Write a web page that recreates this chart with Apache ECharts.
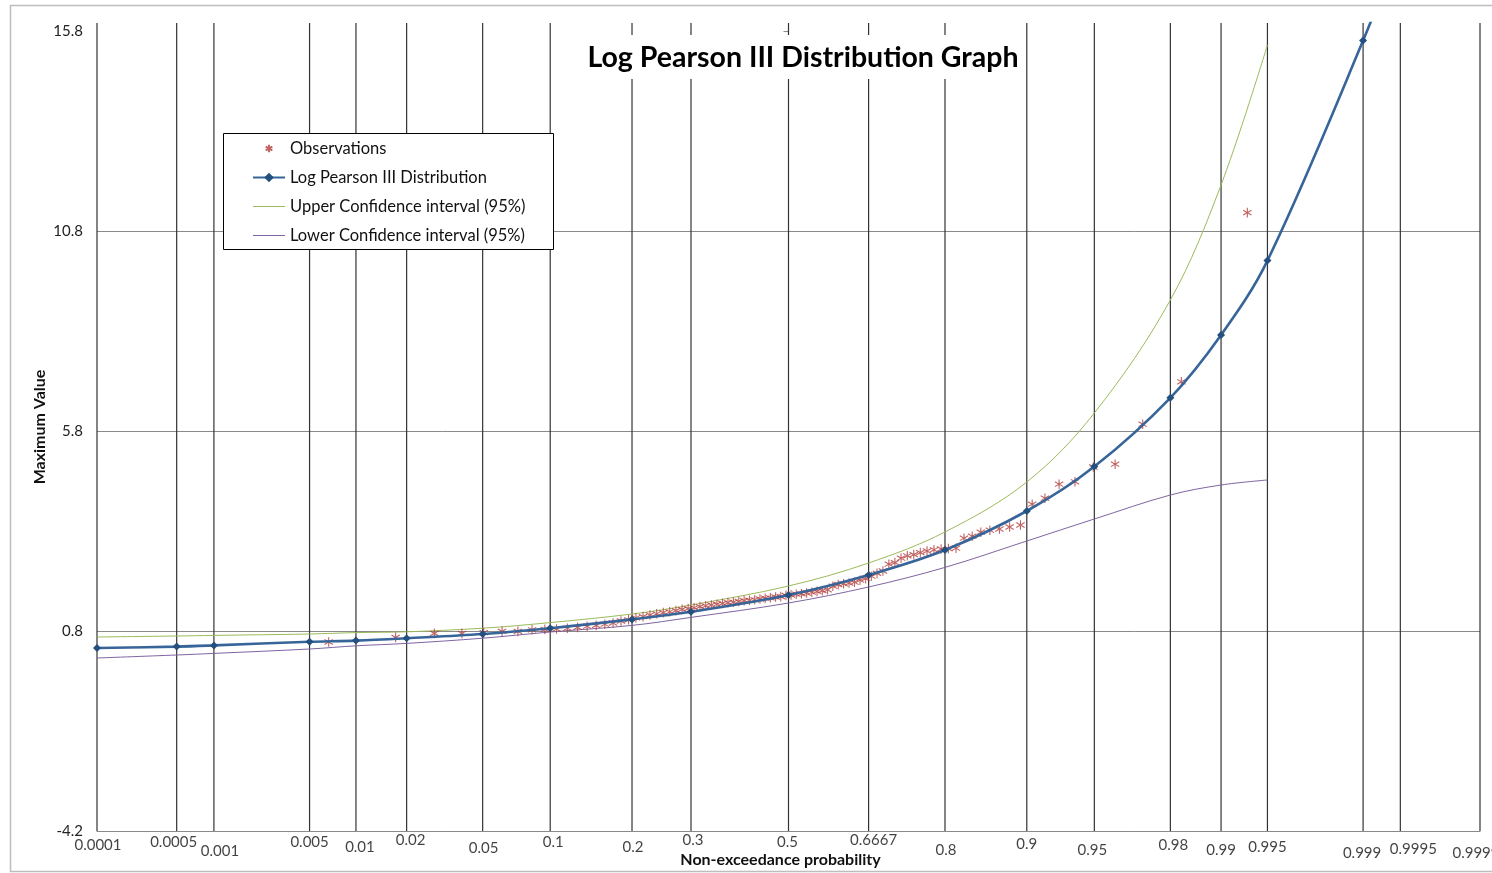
<!DOCTYPE html>
<html><head><meta charset="utf-8">
<script src="https://cdn.jsdelivr.net/npm/echarts@6/dist/echarts.min.js"></script>
<style>html,body{margin:0;padding:0;background:#fff}#c{width:1492px;height:873px}</style>
</head><body><div id="c"></div>
<script>
// ---------- data ----------
const probTicks = [0.0001,0.0005,0.001,0.005,0.01,0.02,0.05,0.1,0.2,0.3,0.5,0.6667,0.8,0.9,0.95,0.98,0.99,0.995,0.999,0.9995,0.9999];
const probTickLabels = ['0.0001','0.0005','0.001','0.005','0.01','0.02','0.05','0.1','0.2','0.3','0.5','0.6667','0.8','0.9','0.95','0.98','0.99','0.995','0.999','0.9995','0.9999'];
const yTicks = [-4.2, 0.8, 5.8, 10.8, 15.8];

const lp3Prob  = [0.0001,0.0005,0.001,0.005,0.01,0.02,0.05,0.1,0.2,0.3,0.5,0.6667,0.8,0.9,0.95,0.98,0.99,0.995,0.999,0.9995];
const lp3Value = [0.375,0.41,0.44,0.53,0.56,0.62,0.725,0.87,1.09,1.28,1.70,2.20,2.825,3.80,4.91,6.63,8.2,10.06,15.56,18.0];

const ciProb   = [0.0001,0.0005,0.001,0.005,0.01,0.02,0.05,0.1,0.2,0.3,0.5,0.6667,0.8,0.9,0.95,0.98,0.99,0.995];
const upperCI  = [0.65,0.675,0.69,0.725,0.76,0.78,0.87,1.01,1.225,1.45,1.925,2.50,3.275,4.525,6.25,9.075,11.95,15.45];
const lowerCI  = [0.125,0.20,0.24,0.35,0.43,0.49,0.62,0.775,0.94,1.14,1.50,1.90,2.39,3.05,3.60,4.20,4.45,4.575];

const obsProb = [0.0067,0.0173,0.0284,0.0395,0.0506,0.0617,0.0728,0.0839,0.0950,0.1061,
  0.1172,0.1283,0.1394,0.1505,0.1616,0.1727,0.1838,0.1949,0.2060,0.2170,
  0.2281,0.2392,0.2503,0.2614,0.2725,0.2836,0.2947,0.3058,0.3169,0.3280,
  0.3391,0.3502,0.3613,0.3724,0.3835,0.3946,0.4057,0.4168,0.4279,0.4390,
  0.4501,0.4612,0.4723,0.4834,0.4945,0.5055,0.5166,0.5277,0.5388,0.5499,
  0.5610,0.5721,0.5832,0.5943,0.6054,0.6165,0.6276,0.6387,0.6498,0.6609,
  0.6720,0.6830,0.6942,0.7053,0.7164,0.7275,0.7386,0.7497,0.7608,0.7719,
  0.7830,0.7941,0.8051,0.8162,0.8273,0.8384,0.8495,0.8606,0.8717,0.8828,
  0.8939,0.9050,0.9161,0.9272,0.9383,0.9494,0.9605,0.9716,0.9827,0.9932];
const obsValue = [0.525,0.64,0.74,0.74,0.76,0.79,0.79,0.83,0.84,0.85,
  0.87,0.89,0.92,0.94,0.97,1.00,1.05,1.08,1.13,1.16,
  1.20,1.23,1.26,1.28,1.31,1.34,1.36,1.38,1.41,1.43,
  1.45,1.47,1.49,1.51,1.52,1.54,1.56,1.57,1.58,1.60,
  1.62,1.63,1.65,1.66,1.69,1.70,1.72,1.73,1.75,1.77,
  1.79,1.81,1.83,1.92,1.96,1.98,2.00,2.02,2.07,2.11,
  2.17,2.24,2.30,2.47,2.51,2.62,2.68,2.71,2.76,2.80,
  2.83,2.85,2.86,2.87,3.12,3.17,3.27,3.32,3.35,3.40,
  3.45,3.97,4.12,4.47,4.53,4.90,4.97,5.97,7.03,11.26];

// ---------- layout / style (not data) ----------
const tickLabelDx = [1,-3,6,0,4,4,1,3,1,2,-1,5,1,0,-2,3,0,0,-1,13,-4];
const tickLabelDy = [14,11,20,11,16,9,17,11,16,9,11,9,19,13,19,14,19,16,22,18,22];
const FONT = 'Lato';
const Y_MIN = -4.2, Y_MAX = 16;

// probability-paper scale: standard normal quantile (Acklam)
function normInv(p){
  const a=[-3.969683028665376e+01,2.209460984245205e+02,-2.759285104469687e+02,1.383577518672690e+02,-3.066479806614716e+01,2.506628277459239e+00];
  const b=[-5.447609879822406e+01,1.615858368580409e+02,-1.556989798598866e+02,6.680131188771972e+01,-1.328068155288572e+01];
  const c=[-7.784894002430293e-03,-3.223964580411365e-01,-2.400758277161838e+00,-2.549671071537450e+00,4.374664141464968e+00,2.938163982698783e+00];
  const d=[7.784695709041462e-03,3.224671290700398e-01,2.445134137142996e+00,3.754408661907416e+00];
  const pl=0.02425, ph=1-pl; let q,r;
  if(p<pl){q=Math.sqrt(-2*Math.log(p));return (((((c[0]*q+c[1])*q+c[2])*q+c[3])*q+c[4])*q+c[5])/((((d[0]*q+d[1])*q+d[2])*q+d[3])*q+1);}
  if(p<=ph){q=p-0.5;r=q*q;return (((((a[0]*r+a[1])*r+a[2])*r+a[3])*r+a[4])*r+a[5])*q/(((((b[0]*r+b[1])*r+b[2])*r+b[3])*r+b[4])*r+1);}
  q=Math.sqrt(-2*Math.log(1-p));return -(((((c[0]*q+c[1])*q+c[2])*q+c[3])*q+c[4])*q+c[5])/((((d[0]*q+d[1])*q+d[2])*q+d[3])*q+1);
}
const pairs = (ps, vs) => ps.map((p,i)=>[normInv(p), vs[i]]);

const ASTERISK = 'path://M-7,-7M7,7M0,-4.5L0,4.5M-3.9,-2.25L3.9,2.25M-3.9,2.25L3.9,-2.25';
const LINE_ICON = 'path://M0,0M32,12M0,5.5L32,5.5L32,6.5L0,6.5Z';

const gridLineSeries = probTicks.map(p => ({
  type:'line', name:'grid'+p, data:[[normInv(p),Y_MIN],[normInv(p),Y_MAX]],
  symbol:'none', silent:true, z:1, animation:false,
  lineStyle:{color:'#333333', width:1.2}
}));

const chart = echarts.init(document.getElementById('c'), null, {renderer:'canvas'});
chart.setOption({
  animation:false,
  backgroundColor:'#fff',
  textStyle:{fontFamily:FONT},
  grid:{left:97, right:12, top:23, bottom:42, containLabel:false, outerBoundsMode:'none'},
  xAxis:{
    type:'value', min:normInv(probTicks[0]), max:normInv(probTicks[probTicks.length-1]),
    axisLabel:{show:false}, axisTick:{show:false}, splitLine:{show:false},
    axisLine:{show:true, onZero:false, lineStyle:{color:'#8a8a8a', width:1}},
    name:'Non-exceedance probability', nameLocation:'middle', nameGap:21, nameMoveOverlap:false,
    nameTextStyle:{fontFamily:FONT, fontWeight:'bold', fontSize:16, color:'#111', padding:[0,16,0,0]}
  },
  yAxis:{
    type:'value', min:Y_MIN, max:Y_MAX, interval:5,
    axisLine:{show:false},
    axisTick:{show:true, length:5, customValues:yTicks, lineStyle:{color:'#8a8a8a'}},
    axisLabel:{customValues:yTicks, margin:14, fontFamily:FONT, fontSize:15, color:'#222',
      formatter:v => (v > 15.9 ? '' : (Math.round(v*10)/10).toFixed(1))},
    splitLine:{show:true, showMaxLine:false, lineStyle:{color:'#8a8a8a', width:1}},
    name:'Maximum Value', nameLocation:'middle', nameGap:49, nameMoveOverlap:false,
    nameTextStyle:{fontFamily:FONT, fontWeight:'bold', fontSize:16, color:'#111'}
  },
  legend:{
    orient:'vertical', left:252, top:140, padding:0, itemGap:12,
    itemWidth:32, itemHeight:12,
    textStyle:{fontFamily:FONT, fontSize:16.5, color:'#111', lineHeight:16},
    data:[
      'Observations',
      'Log Pearson III Distribution',
      {name:'Upper Confidence interval (95%)', icon:LINE_ICON},
      {name:'Lower Confidence interval (95%)', icon:LINE_ICON}
    ]
  },
  graphic:[
    {type:'rect', z:0, silent:true, shape:{x:10.5, y:5.5, width:1500, height:866},
      style:{fill:'none', stroke:'#bdbdbd', lineWidth:1.5}},
    {type:'rect', z:3, silent:true, shape:{x:223.5, y:133.5, width:330, height:116},
      style:{fill:'#fff', stroke:'#000', lineWidth:1}},
    {type:'rect', z:10, silent:true, shape:{x:580, y:35, width:446, height:44},
      style:{fill:'#fff'}},
    {type:'text', z:11, silent:true, x:803, y:58,
      style:{text:'Log Pearson III Distribution Graph', font:'bold 28.5px Lato', fill:'#000',
        textAlign:'center', textVerticalAlign:'middle'}}
  ],
  series:[
    ...gridLineSeries,
    {type:'line', name:'Upper Confidence interval (95%)', data:pairs(ciProb, upperCI),
      symbol:'none', smooth:0.35, z:2, lineStyle:{color:'#9bbb59', width:1}, itemStyle:{color:'#9bbb59'}},
    {type:'line', name:'Lower Confidence interval (95%)', data:pairs(ciProb, lowerCI),
      symbol:'none', smooth:0.35, z:2, lineStyle:{color:'#8064a2', width:1}, itemStyle:{color:'#8064a2'}},
    {type:'scatter', name:'Observations', data:pairs(obsProb, obsValue),
      symbol:ASTERISK, symbolSize:15, z:2,
      itemStyle:{color:'#b03c3a', borderColor:'#b03c3a', borderWidth:1.1}},
    {type:'line', name:'Log Pearson III Distribution', data:pairs(lp3Prob, lp3Value),
      symbol:'diamond', symbolSize:8, showAllSymbol:true, smooth:0.35, z:3,
      lineStyle:{color:'#37659a', width:2.6}, itemStyle:{color:'#23507f'}},
    {type:'scatter', name:'xlabels', silent:true, clip:false, z:4, symbolSize:1,
      itemStyle:{color:'rgba(0,0,0,0)'},
      data: probTicks.map((p,i)=>({
        value:[normInv(p), Y_MIN],
        label:{show:true, position:'inside', offset:[tickLabelDx[i], tickLabelDy[i]],
          formatter:probTickLabels[i], fontFamily:FONT, fontSize:15, color:'#111'}
      }))}
  ]
});
</script>
</body></html>
